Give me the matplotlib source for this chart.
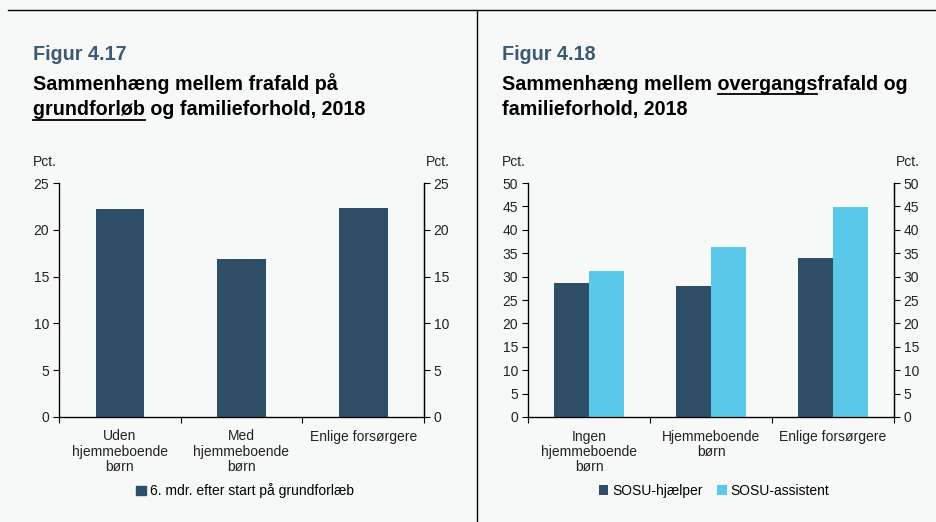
import matplotlib
matplotlib.use("Agg")
import matplotlib.pyplot as plt
from matplotlib.lines import Line2D
from matplotlib.patches import Patch

plt.rcParams['font.family'] = ['Liberation Sans', 'DejaVu Sans']

# data
kat_17 = ["Uden\nhjemmeboende\nbørn", "Med\nhjemmeboende\nbørn", "Enlige forsørgere"]
frafald_17 = [22.2, 16.9, 22.3]
serie_17 = "6. mdr. efter start på grundforlæb"

kat_18 = ["Ingen\nhjemmeboende\nbørn", "Hjemmeboende\nbørn", "Enlige forsørgere"]
hjaelper_18 = [28.6, 28.0, 33.9]
assistent_18 = [31.2, 36.3, 44.9]
serier_18 = ["SOSU-hjælper", "SOSU-assistent"]

W, H = 936, 522
bg = "#f7f9f9"
dark = "#2e4d66"
light = "#5bc8ea"
blue_title = "#3d5a73"
fs = 10

fig = plt.figure(figsize=(W / 100, H / 100), dpi=100, facecolor=bg)


def fx(px):
    return px / W


def fy(py):
    return 1 - py / H


# frame lines
fig.add_artist(Line2D([fx(8), 1], [fy(10), fy(10)], color="black", lw=1))
fig.add_artist(Line2D([fx(477), fx(477)], [fy(10), 0], color="black", lw=1))


def setup_axes(x0, x1, ymax, step, cats):
    ax = fig.add_axes([fx(x0), fy(417), fx(x1 - x0), fy(183) - fy(417)])
    ax.set_facecolor(bg)
    ax.set_xlim(-0.5, 2.5)
    ax.set_ylim(0, ymax)
    ax.set_yticks(range(0, ymax + 1, step))
    ax.set_xticks(range(3))
    ax.set_xticklabels(cats, fontsize=fs, color="#222222", linespacing=1.1)
    ax.set_xticks([-0.5, 0.5, 1.5, 2.5], minor=True)
    ax.tick_params(axis="x", which="major", length=0, pad=9)
    ax.tick_params(axis="x", which="minor", length=4, direction="out", width=0.8)
    ax.tick_params(axis="y", length=4, direction="out", width=0.8, labelsize=fs,
                   labelcolor="#222222", pad=3)
    ax.spines["top"].set_visible(False)
    for s in ["left", "right", "bottom"]:
        ax.spines[s].set_linewidth(0.9)
    ax2 = ax.twinx()
    ax2.set_ylim(0, ymax)
    ax2.set_yticks(range(0, ymax + 1, step))
    ax2.tick_params(axis="y", length=4, direction="out", width=0.8, labelsize=fs,
                    labelcolor="#222222", pad=3)
    ax2.spines["top"].set_visible(False)
    ax2.spines["right"].set_linewidth(0.9)
    ax.set_zorder(ax2.get_zorder() + 1)
    ax.patch.set_visible(False)
    ax2.patch.set_facecolor(bg)
    return ax


# ---- Figur 4.17
ax1 = setup_axes(59, 424, 25, 5, kat_17)
ax1.bar(range(3), frafald_17, width=0.4, color=dark)
ax1.legend(handles=[Patch(color=dark, label=serie_17)], loc="center",
           bbox_to_anchor=(fx(245), fy(491)), bbox_transform=fig.transFigure,
           frameon=False, fontsize=fs, handlelength=0.7, handleheight=0.7,
           handletextpad=0.3)

# ---- Figur 4.18
ax3 = setup_axes(528, 894, 50, 5, kat_18)
bw = 0.285
ax3.bar([i - bw / 2 for i in range(3)], hjaelper_18, width=bw, color=dark, label=serier_18[0])
ax3.bar([i + bw / 2 for i in range(3)], assistent_18, width=bw, color=light, label=serier_18[1])
ax3.legend(loc="center", bbox_to_anchor=(fx(714), fy(491)), bbox_transform=fig.transFigure,
           frameon=False, fontsize=fs, ncol=2, handlelength=0.7, handleheight=0.7,
           handletextpad=0.3, columnspacing=1.0)

# Pct. labels
for x, ha in [(33, "left"), (450, "right"), (502, "left"), (920, "right")]:
    fig.text(fx(x), fy(166), "Pct.", fontsize=fs, ha=ha, va="baseline", color="#222222")

# titles
tkw = dict(fontsize=14.2, fontweight="bold", va="baseline")
fig.text(fx(33), fy(60), "Figur 4.17", color=blue_title, **tkw)
fig.text(fx(33), fy(90), "Sammenhæng mellem frafald på", color="black", **tkw)
fig.text(fx(33), fy(115), "grundforløb og familieforhold, 2018", color="black", **tkw)
fig.text(fx(502), fy(60), "Figur 4.18", color=blue_title, **tkw)
fig.text(fx(502), fy(90), "Sammenhæng mellem overgangsfrafald og", color="black", **tkw)
fig.text(fx(502), fy(115), "familieforhold, 2018", color="black", **tkw)

# underlines
r = fig.canvas.get_renderer()


def text_width(s):
    t = fig.text(0, 0, s, **tkw)
    w = t.get_window_extent(renderer=r).width
    t.remove()
    return w


def underline(x, y, prefix, word):
    x0 = x + text_width(prefix) if prefix else x
    x1 = x + text_width(prefix + word)
    fig.add_artist(Line2D([fx(x0), fx(x1)], [fy(y), fy(y)], color="black", lw=1.3))


underline(33, 119.5, "", "grundforløb")
underline(502, 94, "Sammenhæng mellem ", "overgangs")

fig.savefig("out.png", dpi=100, facecolor=bg)
